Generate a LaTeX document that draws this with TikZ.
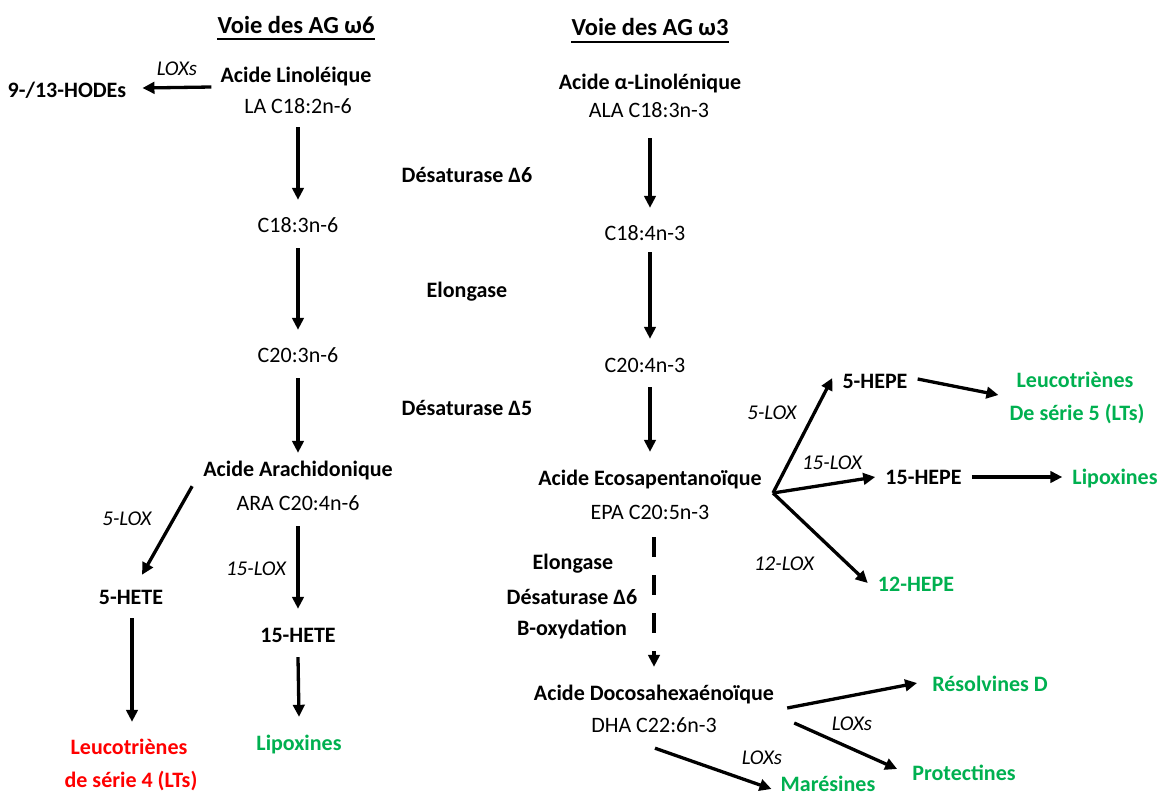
\documentclass[tikz,border=0pt]{standalone}
\usepackage{fontspec}
\setmainfont{Carlito}
\usetikzlibrary{arrows.meta}
\definecolor{vert}{RGB}{0,176,80}
\definecolor{rouge}{RGB}{255,0,0}
\begin{document}
\begin{tikzpicture}[x=1pt,y=-1pt,
 lbl/.style={inner sep=0pt, text height=14pt, text depth=0pt, font=\fontsize{22}{26}\selectfont},
 bld/.style={lbl, font=\fontsize{22}{26}\selectfont\bfseries},
 itl/.style={lbl, font=\fontsize{21}{25}\selectfont\itshape},
 ttl/.style={inner sep=0pt, text height=16pt, text depth=0pt, font=\fontsize{24.5}{28}\selectfont\bfseries},
 arr/.style={line width=3.3pt, -{Triangle[length=12pt,width=11.5pt]}},
 dasharr/.style={arr, dash pattern=on 20pt off 18pt},
 uline/.style={line width=1.8pt},
]
\useasboundingbox (0,0) rectangle (1163,796);

% titles
\node[ttl] (t6) at (296,25) {Voie des AG ω6};
\node[ttl] (t3) at (650,27) {Voie des AG ω3};
\draw[uline] ([shift={(0,6)}]t6.south west) -- ([shift={(0,6)}]t6.south east);
\draw[uline] ([shift={(0,7)}]t3.south west) -- ([shift={(0,7)}]t3.south east);

% omega 6 column
\node[bld] (hodes) at (67,90) {9-/13-HODEs};
\node[itl] (loxs1) at (177,68) {LOXs};
\node[bld] (la1) at (296,75) {Acide Linoléique};
\node[lbl] (la) at (298,106) {LA C18:2n-6};
\node[bld] (des6) at (467,175) {Désaturase Δ6};
\node[lbl] (c183) at (298,225) {C18:3n-6};
\node[bld] (elo) at (467,290) {Elongase};
\node[lbl] (c203) at (298,355) {C20:3n-6};
\node[bld] (des5) at (467,408) {Désaturase Δ5};
\node[bld] (aa1) at (298,469) {Acide Arachidonique};
\node[lbl] (ara) at (298,503) {ARA C20:4n-6};
\node[itl] (lox5a) at (127,518) {5-LOX};
\node[itl] (lox15a) at (256,568) {15-LOX};
\node[bld] (hete5) at (131,597) {5-HETE};
\node[bld] (hete15) at (298,635) {15-HETE};
\node[bld, text=rouge] (lt4a) at (129,747) {Leucotriènes};
\node[bld, text=rouge] (lt4b) at (131,780) {de série 4 (LTs)};
\node[bld, text=vert] (lipa) at (299,743) {Lipoxines};

\draw[arr] ([shift={(-9,12)}]la1.west) -- ([shift={(16,-2)}]hodes.east);
\draw[arr] ([shift={(0,14)}]la.south) -- ([shift={(0,-18)}]c183.north);
\draw[arr] ([shift={(0,16)}]c183.south) -- ([shift={(0,-18)}]c203.north);
\draw[arr] ([shift={(0,16)}]c203.south) -- ([shift={(0,-9)}]aa1.north);
\draw[arr] ([shift={(-11,10)}]aa1.south west) -- ([shift={(11,-15)}]hete5.north);
\draw[arr] ([shift={(0,16)}]ara.south) -- ([shift={(0,-19)}]hete15.north);
\draw[arr] ([shift={(0,15)}]hete15.south) -- ([shift={(0,-19)}]lipa.north);
\draw[arr] ([shift={(1,14)}]hete5.south) -- ([shift={(3,-18)}]lt4a.north);

% omega 3 column
\node[bld] (ala1) at (650,82) {Acide α-Linolénique};
\node[lbl] (ala) at (649,110) {ALA C18:3n-3};
\node[lbl] (c184) at (645,233) {C18:4n-3};
\node[lbl] (c204) at (645,365) {C20:4n-3};
\node[bld] (epa1) at (650,478) {Acide Ecosapentanoïque};
\node[lbl] (epa) at (650,512) {EPA C20:5n-3};
\node[bld] (elo2) at (573,562) {Elongase};
\node[bld] (des62) at (572,597) {Désaturase Δ6};
\node[bld] (boxy) at (572,628) {B-oxydation};
\node[bld] (dha1) at (654,693) {Acide Docosahexaénoïque};
\node[lbl] (dha) at (654,725) {DHA C22:6n-3};

\draw[arr] ([shift={(1,21)}]ala.south) -- ([shift={(5,-18)}]c184.north);
\draw[arr] ([shift={(5,12)}]c184.south) -- ([shift={(5,-19)}]c204.north);
\draw[arr] ([shift={(5,15)}]c204.south) -- ([shift={(0,-19)}]epa1.north);
\draw[dasharr] ([shift={(4,18)}]epa.south) -- ([shift={(0,-19)}]dha1.north);

% EPA branches
\coordinate (split) at (773,493);
\node[bld] (hepe5) at (875,381) {5-HEPE};
\node[bld] (hepe15) at (923.5,477) {15-HEPE};
\node[bld, text=vert] (hepe12) at (916,584) {12-HEPE};
\node[bld, text=vert] (lt5a) at (1075,380) {Leucotriènes};
\node[bld, text=vert] (lt5b) at (1077,413) {De série 5 (LTs)};
\node[bld, text=vert] (lipb) at (1115,477) {Lipoxines};
\node[itl] (lox5b) at (772,412) {5-LOX};
\node[itl] (lox15b) at (832,462) {15-LOX};
\node[itl] (lox12) at (784,563) {12-LOX};

\draw[arr] (split) -- ([shift={(-10,-3)}]hepe5.west);
\draw[arr] (split) -- ([shift={(-10,0)}]hepe15.west);
\draw[arr] (split) -- ([shift={(-10,-1)}]hepe12.west);
\draw[arr] ([shift={(10,-2)}]hepe5.east) -- ([shift={(-18,15)}]lt5a.west);
\draw[arr] ([shift={(10,0)}]hepe15.east) -- ([shift={(-10,0)}]lipb.west);

% DHA branches
\node[bld, text=vert] (resD) at (990,684) {Résolvines D};
\node[bld, text=vert] (prot) at (964,773) {Protectines};
\node[bld, text=vert] (mar) at (828,784) {Marésines};
\node[itl] (loxs2) at (852,723) {LOXs};
\node[itl] (loxs3) at (762,757) {LOXs};

\draw[arr] ([shift={(13,15)}]dha1.east) -- ([shift={(-15,-1)}]resD.west);
\draw[arr] ([shift={(20,30)}]dha1.east) -- ([shift={(-15,-4)}]prot.west);
\draw[arr] ([shift={(1,16)}]dha.south) -- ([shift={(-9,5)}]mar.west);
\end{tikzpicture}
\end{document}
